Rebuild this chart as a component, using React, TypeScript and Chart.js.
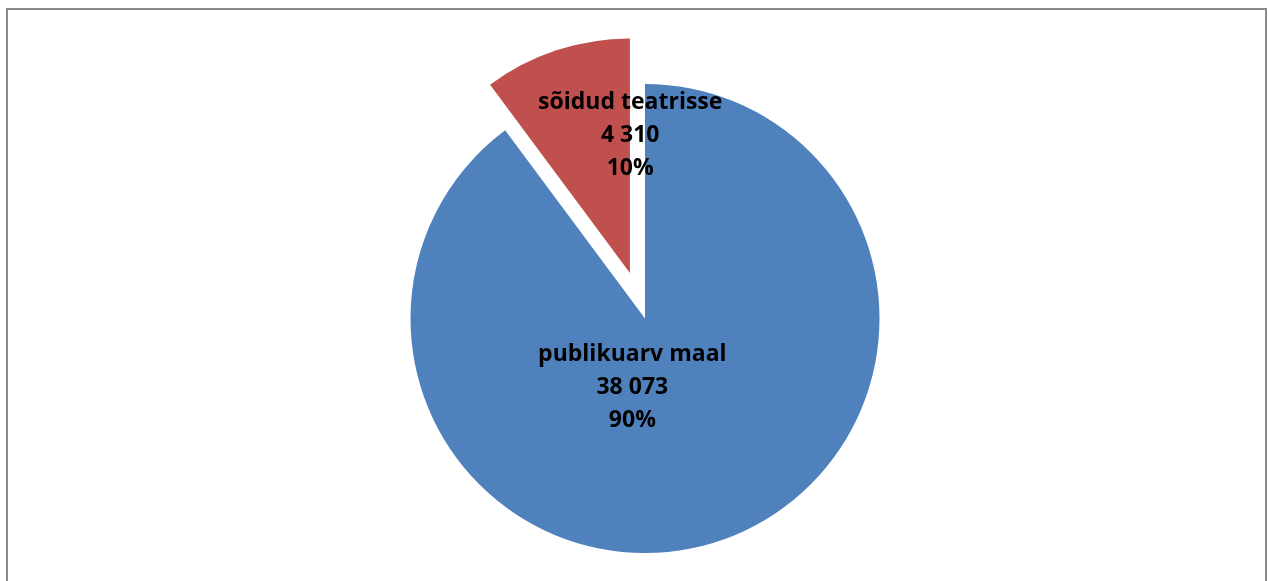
import React, { useEffect, useRef } from "react";
import { Chart, registerables } from "chart.js";

Chart.register(...registerables);

const categories = ["publikuarv maal", "sõidud teatrisse"];
const values = [38073, 4310];
const sliceColors = ["#4F81BD", "#C0504D"];

const explodeDistance = [0, 48];
const labelAnchors: [number, number][] = [
  [-0.054, 0.2925],
  [-0.063, -0.7785],
];

function fmt(n: number): string {
  return String(n).replace(/\B(?=(\d{3})+(?!\d))/g, " ");
}

const explodedPiePlugin = {
  id: "explodedPie",
  beforeDatasetDraw(chart: any, args: any) {
    const ctx = chart.ctx;
    const meta = args.meta;
    meta.data.forEach((arc: any, i: number) => {
      const p = arc.getProps(["x", "y", "startAngle", "endAngle", "outerRadius"], true);
      const mid = (p.startAngle + p.endAngle) / 2;
      const d = explodeDistance[i] || 0;
      const cx = p.x + Math.cos(mid) * d;
      const cy = p.y + Math.sin(mid) * d;
      ctx.save();
      ctx.beginPath();
      ctx.moveTo(cx, cy);
      ctx.arc(cx, cy, p.outerRadius, p.startAngle, p.endAngle);
      ctx.closePath();
      ctx.fillStyle = arc.options.backgroundColor;
      ctx.fill();
      ctx.restore();
    });
    return false;
  },
  afterDatasetsDraw(chart: any) {
    const ctx = chart.ctx;
    const meta = chart.getDatasetMeta(0);
    const data = chart.data.datasets[0].data as number[];
    const total = data.reduce((a, b) => a + b, 0);
    ctx.save();
    ctx.fillStyle = "#000";
    ctx.font = "bold 23px 'Open Sans'";
    ctx.textAlign = "center";
    ctx.textBaseline = "middle";
    meta.data.forEach((arc: any, i: number) => {
      const p = arc.getProps(["x", "y", "outerRadius"], true);
      const [ax, ay] = labelAnchors[i];
      const lx = p.x + ax * p.outerRadius;
      const ly = p.y + ay * p.outerRadius;
      const lines = [
        String(chart.data.labels[i]),
        fmt(data[i]),
        Math.round((data[i] / total) * 100) + "%",
      ];
      const lh = 33;
      lines.forEach((t, k) => {
        ctx.fillText(t, lx, ly + (k - 1) * lh);
      });
    });
    ctx.restore();
  },
};

export default function App() {
  const ref = useRef<HTMLCanvasElement | null>(null);
  useEffect(() => {
    if (!ref.current) return;
    const chart = new Chart(ref.current, {
      type: "pie",
      data: {
        labels: categories,
        datasets: [
          {
            data: values,
            backgroundColor: sliceColors,
            borderWidth: 0,
          },
        ],
      },
      options: {
        responsive: false,
        animation: false,
        radius: 234.5,
        layout: { padding: { left: 22, right: 0, top: 56, bottom: 0 } },
        plugins: {
          legend: { display: false },
          tooltip: { enabled: false },
        },
      } as any,
      plugins: [explodedPiePlugin],
    });
    return () => chart.destroy();
  }, []);
  return (
    <div>
      <div
        style={{
          position: "fixed",
          left: 6,
          top: 8,
          width: 1261,
          height: 700,
          boxSizing: "border-box",
          border: "2px solid #8a8a8a",
          background: "#fff",
        }}
      />
      <canvas
        ref={ref}
        width={1268}
        height={581}
        style={{ position: "fixed", left: 0, top: 0, width: 1268, height: 581 }}
      />
    </div>
  );
}
